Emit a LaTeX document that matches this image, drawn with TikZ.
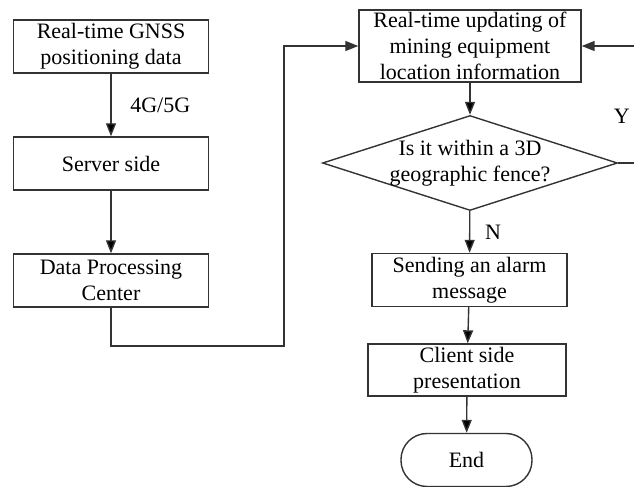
\documentclass[tikz,border=0pt]{standalone}
\usepackage{fontspec}
\setmainfont{Liberation Serif}
\usetikzlibrary{arrows.meta, positioning, shapes.geometric}

\begin{document}
\begin{tikzpicture} [x=0.5pt, y=-0.5pt, node distance = 58.5pt, on grid, font=\fontsize{11}{13}\selectfont,
    box/.style = {draw=black!80, line width=0.7pt, rectangle, align=center,
        minimum width=97.5pt, minimum height=26.5pt, inner sep=1pt},
    decision/.style = {draw=black!80, line width=0.7pt, diamond,
        minimum width=147.5pt, minimum height=47.5pt, inner sep=0pt},
    terminal/.style = {draw=black!80, line width=0.7pt, rectangle, rounded corners=13pt,
        minimum width=65.5pt, minimum height=26.5pt},
    link/.style = {-{Triangle[length=6.5pt, width=5pt]}, draw=black!80, line width=0.7pt}]
    \useasboundingbox (0,0) rectangle (634,487);
    \clip (0,0) rectangle (634,487);

    \node (gnss) [box] at (111,46.5) {Real-time GNSS\\positioning data};
    \node (server) [box, below = of gnss] {Server side};
    \node (dpc) [box, below = of server] {Data Processing\\Center};

    \node (update)
        [box, minimum width=111pt, minimum height=36pt, inner sep=0pt] at (470,46)
        {Real-time updating of\\mining equipment\\location information};
    \node (fence) [decision, below = of update] {};
    \node (fenceq) [align=center] at (fence) {Is it within a 3D\\geographic fence?};
    \node (alarm) [box, below = of fence, xshift=-0.25pt] {Sending an alarm\\message};
    \node (client) [box, minimum width=99pt, minimum height=26pt, below = 45pt of alarm, xshift=-1.25pt]
        {Client side\\presentation};
    \node (stop) [terminal, below = 45pt of client, xshift=-0.25pt] {End};

    \path [link]
    (gnss) edge node [right, xshift=6pt] {4G/5G} (server)
    (server) edge (dpc)
    (update) edge (fence)
    (fence) edge node [right, xshift=4pt] {N} (alarm)
    (alarm) edge (client)
    (client) edge (stop)
    ;
    \coordinate (turn) at (284,346);
    \coordinate (back) at ([xshift=9.5pt]fence.east);
    \draw [link] (dpc.south) |- (turn) |- (update.west);
    \draw [link] (fence.east) -- (back) |- node [pos=0.2, left] {Y} (update.east);
\end{tikzpicture}
\end{document}
